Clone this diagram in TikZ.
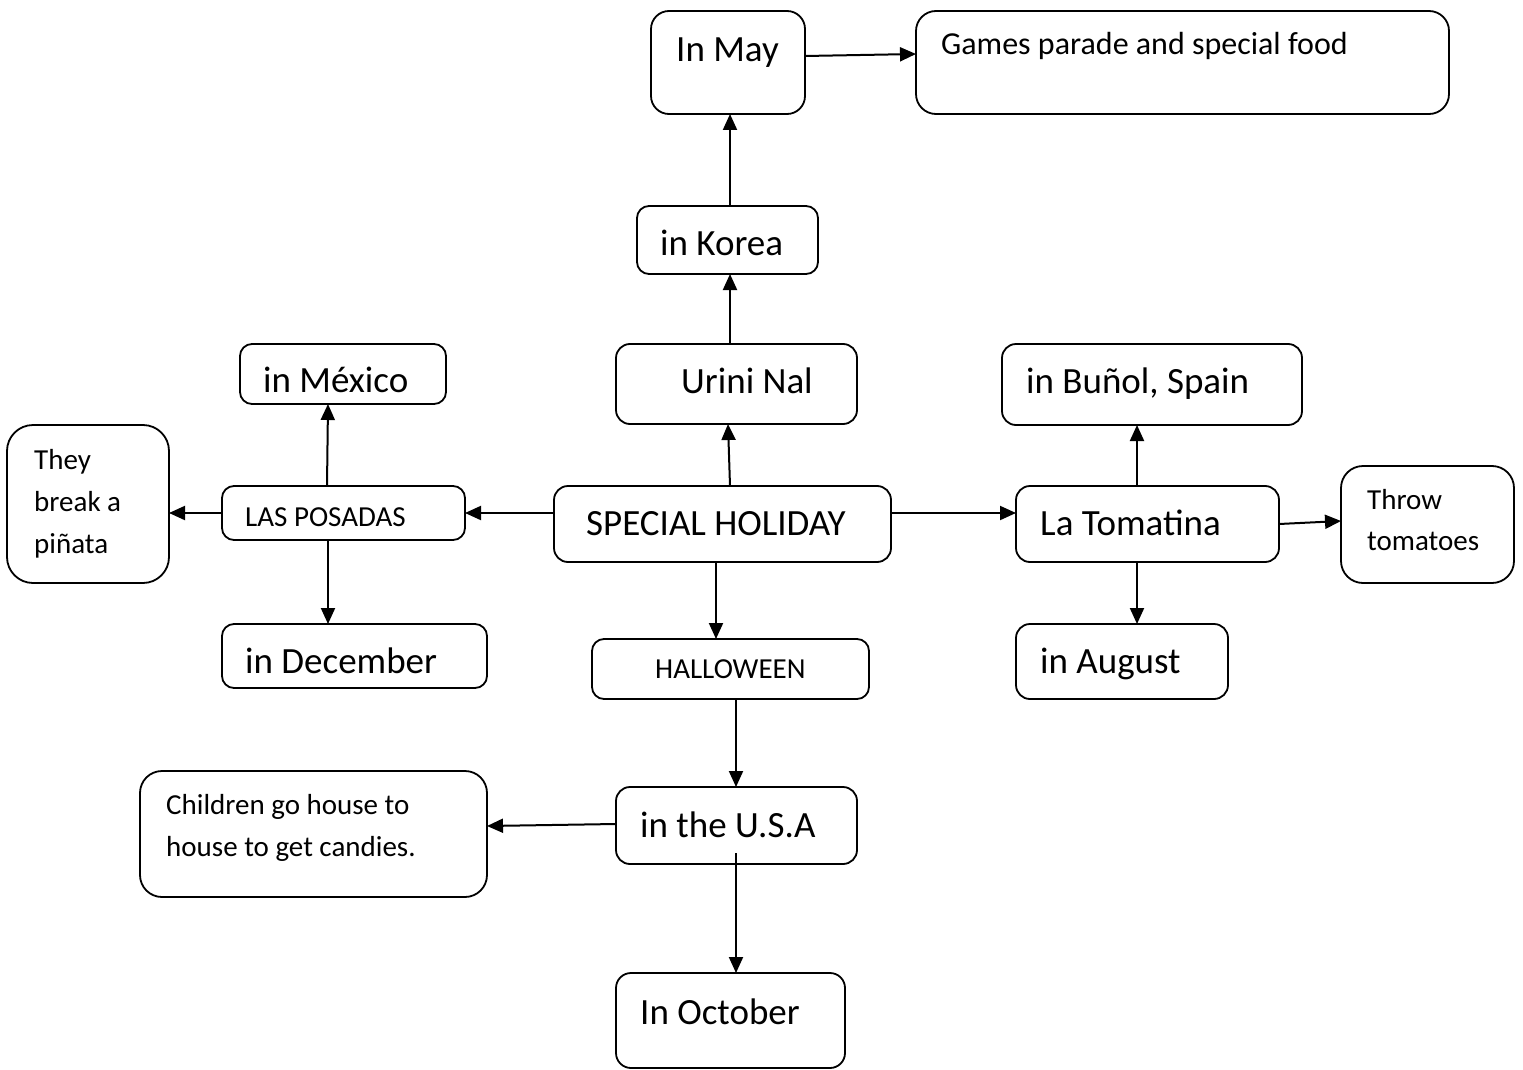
\documentclass[tikz,border=0pt]{standalone}
\usepackage{fontspec}
\setmainfont{Carlito}
\usetikzlibrary{arrows.meta}

\tikzset{
  card/.style={draw=black, line width=1.8pt, rectangle, inner sep=0pt, outer sep=0pt, fill=white},
  big/.style={anchor=base west, inner sep=0pt, font=\fontsize{37}{44}\selectfont},
  small/.style={anchor=base west, inner sep=0pt, align=left, font=\fontsize{29}{42}\selectfont},
  link/.style={line width=2pt, -{Triangle[length=16pt,width=14pt]}}
}

% #1 name, #2 left, #3 top, #4 right, #5 bottom, #6 corner radius
\newcommand\cardbox[6]{%
  \node[card, rounded corners=#6, minimum width={#4pt-#2pt}, minimum height={#5pt-#3pt}]
    (#1) at ({(#2+#4)/2},{(#3+#5)/2}) {};}

\begin{document}
\begin{tikzpicture}[x=1pt, y=-1pt]
\useasboundingbox[fill=white] (0,0) rectangle (1523,1070);

% boxes
\cardbox{may}{651}{11}{805}{114}{18pt}
\cardbox{games}{916}{11}{1449}{114}{20pt}
\cardbox{korea}{637}{206}{818}{274}{12pt}
\cardbox{urini}{616}{344}{857}{424}{14pt}
\cardbox{mexico}{240}{344}{446}{404}{12pt}
\cardbox{they}{7}{425}{169}{583}{26pt}
\cardbox{posadas}{222}{486}{465}{540}{12pt}
\cardbox{sh}{554}{486}{891}{562}{14pt}
\cardbox{dec}{222}{624}{487}{688}{12pt}
\cardbox{hall}{592}{639}{869}{699}{12pt}
\cardbox{bunol}{1002}{344}{1302}{425}{14pt}
\cardbox{toma}{1016}{486}{1279}{562}{14pt}
\cardbox{throw}{1341}{466}{1514}{583}{22pt}
\cardbox{aug}{1016}{624}{1228}{699}{14pt}
\cardbox{child}{140}{771}{487}{897}{22pt}
\cardbox{usa}{616}{787}{857}{864}{14pt}
\cardbox{oct}{616}{973}{845}{1068}{15pt}

% texts (multi-line texts are placed by the baseline of their last line)
\node[big] (tmay) at (676,62) {In May};
\node[small, font=\fontsize{32}{42}\selectfont] (tgames) at (941,55) {Games parade and special food};
\node[big] (tkorea) at (660,255) {in Korea};
\node[big] (turini) at (681,393) {Urini Nal};
\node[big] (tmexico) at (263,392) {in México};
\node[small] (tthey) at (34,553) {They\\break a\\piñata};
\node[small] (tposadas) at (245,526) {LAS POSADAS};
\node[big] (tsh) at (586,535) {SPECIAL HOLIDAY};
\node[big] (tdec) at (245,673) {in December};
\node[small] (thall) at (655,678) {HALLOWEEN};
\node[big] (tbunol) at (1026,393) {in Buñol, Spain};
\node[big] (ttoma) at (1040,535) {La Tomatina};
\node[small, font=\fontsize{29}{41}\selectfont] (tthrow) at (1367,550) {Throw\\tomatoes};
\node[big] (taug) at (1040,673) {in August};
\node[small] (tchild) at (166,856) {Children go house to\\house to get candies.};
\node[big] (tusa) at (640,837) {in the U.S.A};
\node[big] (toct) at (640,1024) {In October};

% connectors
\draw[link] ([xshift=7.5pt]sh.north) -- ([xshift=-8.5pt]urini.south);
\draw[link] ([xshift=-6.5pt]urini.north) -- ([xshift=2.5pt]korea.south);
\draw[link] ([xshift=2.5pt]korea.north) -- ([xshift=2pt]may.south);
\draw[link] ([yshift=6.5pt]may.east) -- ([yshift=8.5pt]games.west);

\draw[link] ([yshift=11pt]sh.west) -- (posadas.east);
\draw[link] (posadas.west) -- ([yshift=-9pt]they.east);
\draw[link] ([xshift=-16.5pt]posadas.north) -- ([xshift=-15pt]mexico.south);
\draw[link] ([xshift=-15.5pt]posadas.south) -- ([xshift=-26.5pt]dec.north);

\draw[link] ([yshift=11pt]sh.east) -- ([yshift=11pt]toma.west);
\draw[link] ([xshift=-10.5pt]toma.north) -- ([xshift=-15pt]bunol.south);
\draw[link] ([xshift=-10.5pt]toma.south) -- ([xshift=15pt]aug.north);
\draw[link] (toma.east) -- ([yshift=3.5pt]throw.west);

\draw[link] ([xshift=-6.5pt]sh.south) -- ([xshift=-14.5pt]hall.north);
\draw[link] ([xshift=5.5pt]hall.south) -- ([xshift=-0.5pt]usa.north);
\draw[link] ([yshift=1.5pt]usa.west) -- ([yshift=8pt]child.east);
\coordinate (usain) at ([xshift=-0.5pt,yshift=-27.5pt]usa.center);
\draw[link] (usain) -- ([xshift=5.5pt]oct.north);
\end{tikzpicture}
\end{document}
